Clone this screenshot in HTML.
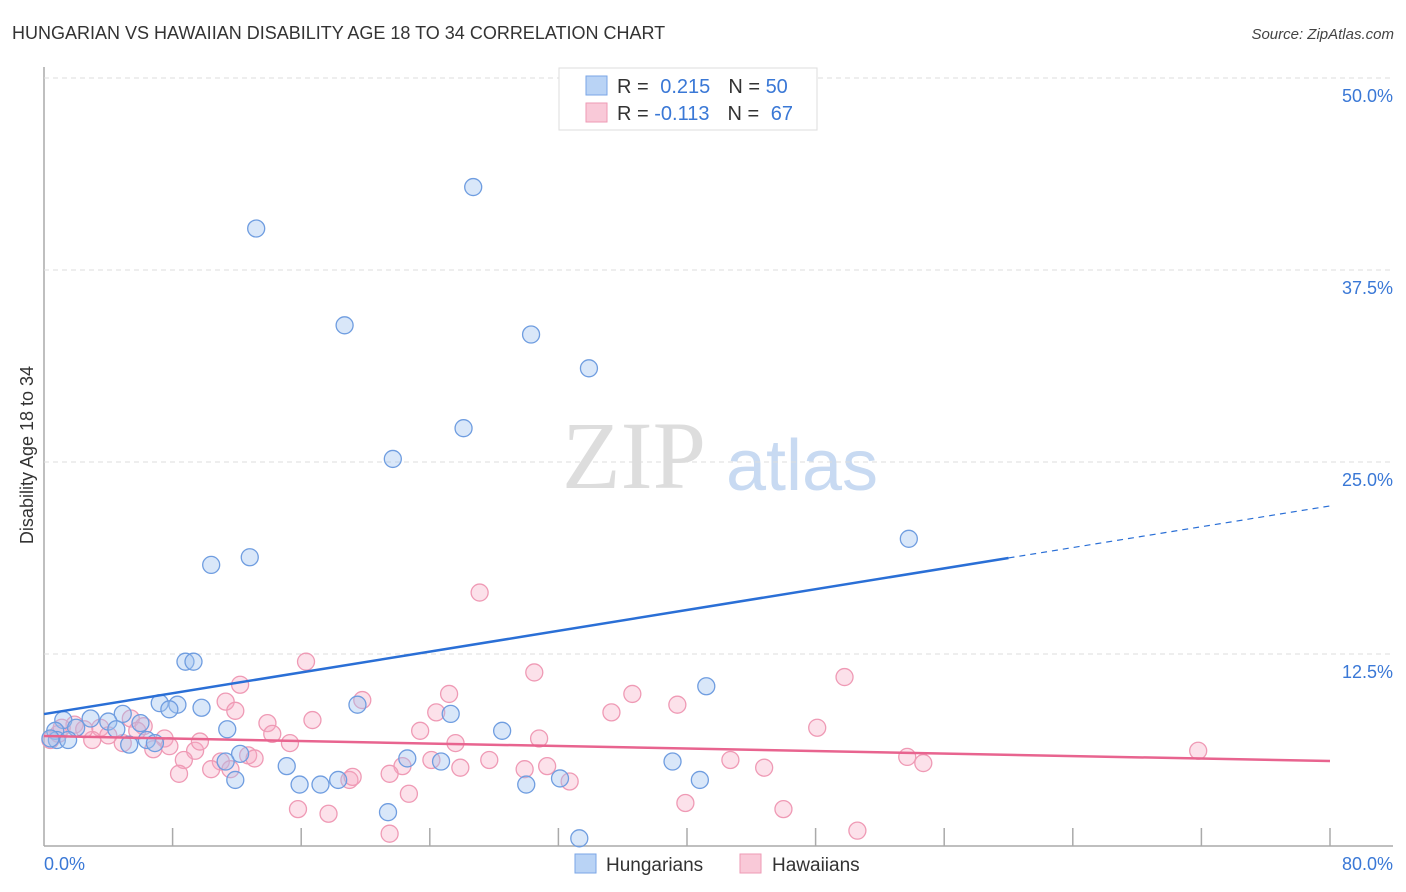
<!DOCTYPE html>
<html><head><meta charset="utf-8">
<style>
body{margin:0;background:#fff;font-family:"Liberation Sans",sans-serif;}
svg{display:block}
</style></head>
<body>
<svg id="chart" width="1406" height="892" xmlns="http://www.w3.org/2000/svg">
<text x="12" y="39" font-size="18" fill="#333">HUNGARIAN VS HAWAIIAN DISABILITY AGE 18 TO 34 CORRELATION CHART</text>
<text x="1394" y="39" font-size="15" fill="#444" font-style="italic" text-anchor="end">Source: ZipAtlas.com</text>
<text x="634" y="488" font-size="96" fill="#ddd" font-family="Liberation Serif,serif" text-anchor="middle">ZIP</text>
<text x="802" y="490" font-size="72" fill="#c8daf2" text-anchor="middle">atlas</text>
<text transform="translate(33,455) rotate(-90)" font-size="18" fill="#333" text-anchor="middle">Disability Age 18 to 34</text>
<g id="grid"></g><g id="marks"></g>
<g>
<rect x="559" y="68" width="258" height="62" fill="#fff" stroke="#ddd"/>
<rect x="586" y="76" width="21" height="19" fill="#b9d3f5" stroke="#7aa6e6"/>
<rect x="586" y="103" width="21" height="19" fill="#f9c9d8" stroke="#ee9ab5"/>
<text x="617" y="93" font-size="20" fill="#333">R = <tspan fill="#3a78d6" dx="6">0.215</tspan><tspan dx="18" fill="#333">N = </tspan><tspan fill="#3a78d6">50</tspan></text>
<text x="617" y="120" font-size="20" fill="#333">R = <tspan fill="#3a78d6">-0.113</tspan><tspan dx="18" fill="#333">N = </tspan><tspan fill="#3a78d6" dx="6">67</tspan></text>
</g>
<g>
<rect x="575" y="854" width="21" height="19" fill="#b9d3f5" stroke="#7aa6e6"/>
<text x="606" y="871" font-size="19" fill="#333">Hungarians</text>
<rect x="740" y="854" width="21" height="19" fill="#f9c9d8" stroke="#ee9ab5"/>
<text x="772" y="871" font-size="19" fill="#333">Hawaiians</text>
</g>
</svg>
<script>
const hungX=[26.7,13.2,18.7,30.3,33.9,26.1,21.7,53.8,12.8,10.4,8.8,9.3,41.2,7.2,8.3,7.8,9.8,19.5,25.3,4.9,2.9,1.2,4.0,6.0,11.4,28.5,2.0,0.7,6.4,6.9,5.3,0.8,12.2,22.6,24.7,39.1,15.1,32.1,40.8,11.9,15.9,17.2,18.3,30.0,21.4,33.3,0.4,1.5,4.5,11.3];
const hungY=[42.9,40.2,33.9,33.3,31.1,27.2,25.2,20.0,18.8,18.3,12.0,12.0,10.4,9.3,9.2,8.9,9.0,9.2,8.6,8.6,8.3,8.2,8.1,8.0,7.6,7.5,7.7,7.5,6.9,6.7,6.6,6.9,6.0,5.7,5.5,5.5,5.2,4.4,4.3,4.3,4.0,4.0,4.3,4.0,2.2,0.5,7.0,6.9,7.6,5.5];
const hawX=[27.1,30.5,49.8,16.3,12.2,36.6,25.2,19.8,11.3,11.9,35.3,39.4,24.4,13.9,16.7,23.4,48.1,1.9,3.5,5.4,6.2,7.5,14.2,15.3,25.6,30.8,71.8,9.4,12.7,13.1,11.0,8.7,22.3,24.1,27.7,29.9,53.7,54.7,42.7,44.8,31.3,8.4,21.5,10.4,19.0,32.7,22.7,15.8,17.7,39.9,46.0,21.5,50.6,3.0,4.9,6.8,4.0,0.9,2.5,1.1,0.4,7.8,5.8,9.7,11.6,19.2,25.9];
const hawY=[16.5,11.3,11.0,12.0,10.5,9.9,9.9,9.5,9.4,8.8,8.7,9.2,8.7,8.0,8.2,7.5,7.7,7.9,7.7,8.3,7.8,7.0,7.3,6.7,6.7,7.0,6.2,6.2,5.9,5.7,5.5,5.6,5.2,5.6,5.6,5.0,5.8,5.4,5.6,5.1,5.2,4.7,4.7,5.0,4.3,4.2,3.4,2.4,2.1,2.8,2.4,0.8,1.0,6.9,6.7,6.3,7.2,7.3,7.6,7.7,6.9,6.5,7.5,6.8,5.0,4.5,5.1];
const trendX=[0,80];
const hungTrend=[8.59,22.14];
const hawTrend=[7.16,5.53];
const yTicks=[12.5,25,37.5,50];
const yTickLabels=["12.5%","25.0%","37.5%","50.0%"];
const xTickVals=[0,8,16,24,32,40,48,56,64,72,80];

const NS="http://www.w3.org/2000/svg";
const X0=44,X1=1330,Y0=846,PXY=192/12.5;
const sx=v=>X0+(v/80)*(X1-X0);
const sy=v=>Y0-v*PXY;
function mk(tag,attrs,parent){const e=document.createElementNS(NS,tag);for(const k in attrs)e.setAttribute(k,attrs[k]);parent.appendChild(e);return e;}
const grid=document.getElementById('grid'),marks=document.getElementById('marks');
// axes
let ax=mk('line',{x1:X0,y1:67,x2:X0,y2:Y0,stroke:'#aaa','stroke-width':1.5},grid);


let bx=mk('line',{x1:X0,y1:Y0,x2:1393,y2:Y0,stroke:'#aaa','stroke-width':1.5},grid);


yTicks.forEach((v,i)=>{
  const g=mk('line',{x1:X0,y1:sy(v),x2:1393,y2:sy(v),stroke:'#ddd','stroke-dasharray':'5,4'},grid);
  
  
  const t=mk('text',{x:1393,y:sy(v)+24,'font-size':18,fill:'#3a78d6','text-anchor':'end'},grid);
  t.textContent=yTickLabels[i];
  
  
});
xTickVals.forEach(v=>{
  if(v===0)return;
  const t=mk('line',{x1:sx(v),y1:Y0-18,x2:sx(v),y2:Y0,stroke:'#aaa','stroke-width':1.5},grid);
  
  
});
let xl=mk('text',{x:44,y:870,'font-size':18,fill:'#3a78d6'},grid);xl.textContent='0.0%';


let xr=mk('text',{x:1393,y:870,'font-size':18,fill:'#3a78d6','text-anchor':'end'},grid);xr.textContent='80.0%';


// points
hawX.forEach((x,i)=>{
  const c=mk('circle',{cx:sx(x),cy:sy(hawY[i]),r:8.5,fill:'rgba(246,170,195,0.35)',stroke:'#ef9ab5','stroke-width':1.3},marks);
  
  
});
hungX.forEach((x,i)=>{
  const c=mk('circle',{cx:sx(x),cy:sy(hungY[i]),r:8.5,fill:'rgba(160,195,240,0.4)',stroke:'#6f9de0','stroke-width':1.3},marks);
  
  
});
// trend lines
const bAt=x=>hungTrend[0]+(hungTrend[1]-hungTrend[0])*(x-trendX[0])/(trendX[1]-trendX[0]);
const split=60;
let t1=mk('line',{x1:sx(trendX[0]),y1:sy(hungTrend[0]),x2:sx(split),y2:sy(bAt(split)),stroke:'#2a6fd6','stroke-width':2.5},marks);


let t2=mk('line',{x1:sx(split),y1:sy(bAt(split)),x2:sx(trendX[1]),y2:sy(hungTrend[1]),stroke:'#2a6fd6','stroke-width':1.2,'stroke-dasharray':'6,5'},marks);


let t3=mk('line',{x1:sx(trendX[0]),y1:sy(hawTrend[0]),x2:sx(trendX[1]),y2:sy(hawTrend[1]),stroke:'#e8648f','stroke-width':2.5},marks);


</script>
</body></html>
